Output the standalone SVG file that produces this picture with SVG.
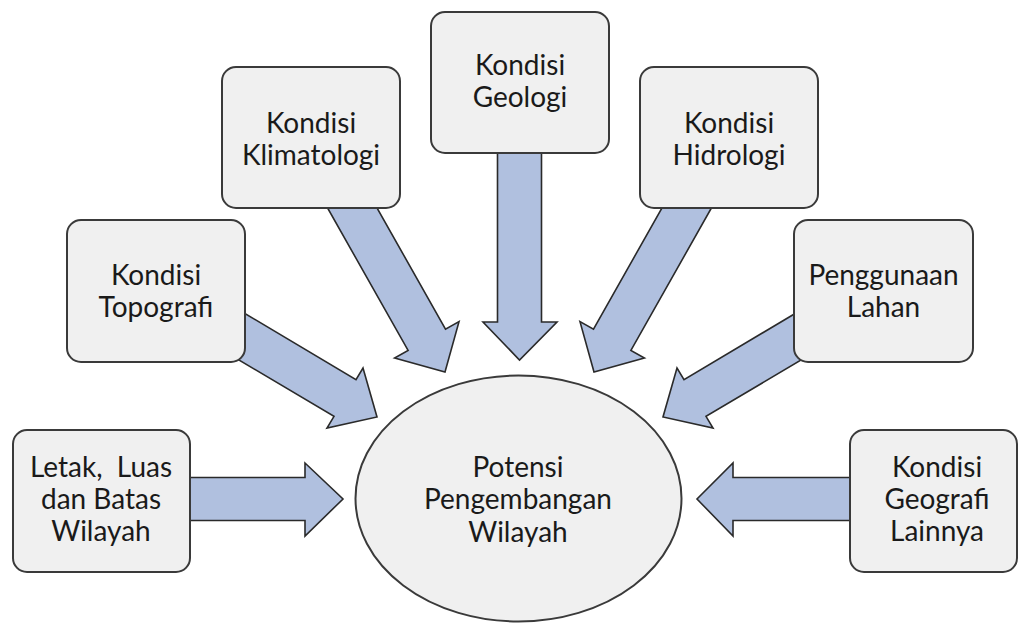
<svg xmlns="http://www.w3.org/2000/svg" width="1021" height="625" viewBox="0 0 1021 625">
<style>
.arrow{fill:#b0c0df;stroke:#2a2a2a;stroke-width:1.6;stroke-linejoin:miter}
.box{fill:#f0f0f0;stroke:#3a3a3a;stroke-width:2}
.t{font-family:Lato,"Open Sans","Liberation Sans",sans-serif;font-size:28px;fill:#1a1a1a;text-anchor:middle}
</style>
<rect width="1021" height="625" fill="#ffffff"/>
<g id="connectors">
<polygon class="arrow" points="180,477.5 305,477.5 305,463 343,499 305,536 305,520.5 180,520.5"/>
<polygon class="arrow" points="860,477.5 733,477.5 733,463 697,499 733,536 733,520.5 860,520.5"/>
<polygon class="arrow" points="497.5,145 541.5,145 541.5,322 557,322 519.5,360 483,322 497.5,322"/>
<polygon class="arrow" points="322.5,199 372,199 445.5,329.2 459,321.6 445,372 394.6,358 408.1,350.4"/>
<polygon class="arrow" points="716.5,199 667,199 593.5,329.2 580,321.6 594,372 644.4,358 630.9,350.4"/>
<polygon class="arrow" points="235.6,308 356,379.6 363,368 377,417 327,428 334,416.4 213.6,344.9"/>
<polygon class="arrow" points="804.4,308 684,379.6 677,368 663,417 713,428 706,416.4 826.4,344.9"/>
</g>
<g id="node-letak">
<rect class="box" x="13" y="430" width="177" height="142" rx="14"/>
<text class="t" x="101" y="477" xml:space="preserve">Letak,  Luas</text>
<text class="t" x="101" y="509">dan Batas</text>
<text class="t" x="101" y="541">Wilayah</text>
</g>
<g id="node-topografi">
<rect class="box" x="67" y="220" width="178" height="142" rx="14"/>
<text class="t" x="156" y="285">Kondisi</text>
<text class="t" x="156" y="317">Topografi</text>
</g>
<g id="node-klimatologi">
<rect class="box" x="222" y="67" width="178" height="141" rx="14"/>
<text class="t" x="311" y="133">Kondisi</text>
<text class="t" x="311" y="165">Klimatologi</text>
</g>
<g id="node-geologi">
<rect class="box" x="431" y="12" width="178" height="141" rx="14"/>
<text class="t" x="520" y="75">Kondisi</text>
<text class="t" x="520" y="107">Geologi</text>
</g>
<g id="node-hidrologi">
<rect class="box" x="640" y="67" width="178" height="141" rx="14"/>
<text class="t" x="729" y="133">Kondisi</text>
<text class="t" x="729" y="165">Hidrologi</text>
</g>
<g id="node-penggunaan">
<rect class="box" x="794" y="220" width="179" height="142" rx="14"/>
<text class="t" x="883.5" y="285">Penggunaan</text>
<text class="t" x="883.5" y="317">Lahan</text>
</g>
<g id="node-geografi">
<rect class="box" x="850" y="430" width="167" height="142" rx="14"/>
<text class="t" x="937" y="477">Kondisi</text>
<text class="t" x="937" y="509">Geografi</text>
<text class="t" x="937" y="541">Lainnya</text>
</g>
<g id="node-potensi">
<ellipse class="box" cx="518.5" cy="498.5" rx="163" ry="123"/>
<text class="t" x="518" y="477">Potensi</text>
<text class="t" x="518" y="509">Pengembangan</text>
<text class="t" x="518" y="542">Wilayah</text>
</g>
</svg>
